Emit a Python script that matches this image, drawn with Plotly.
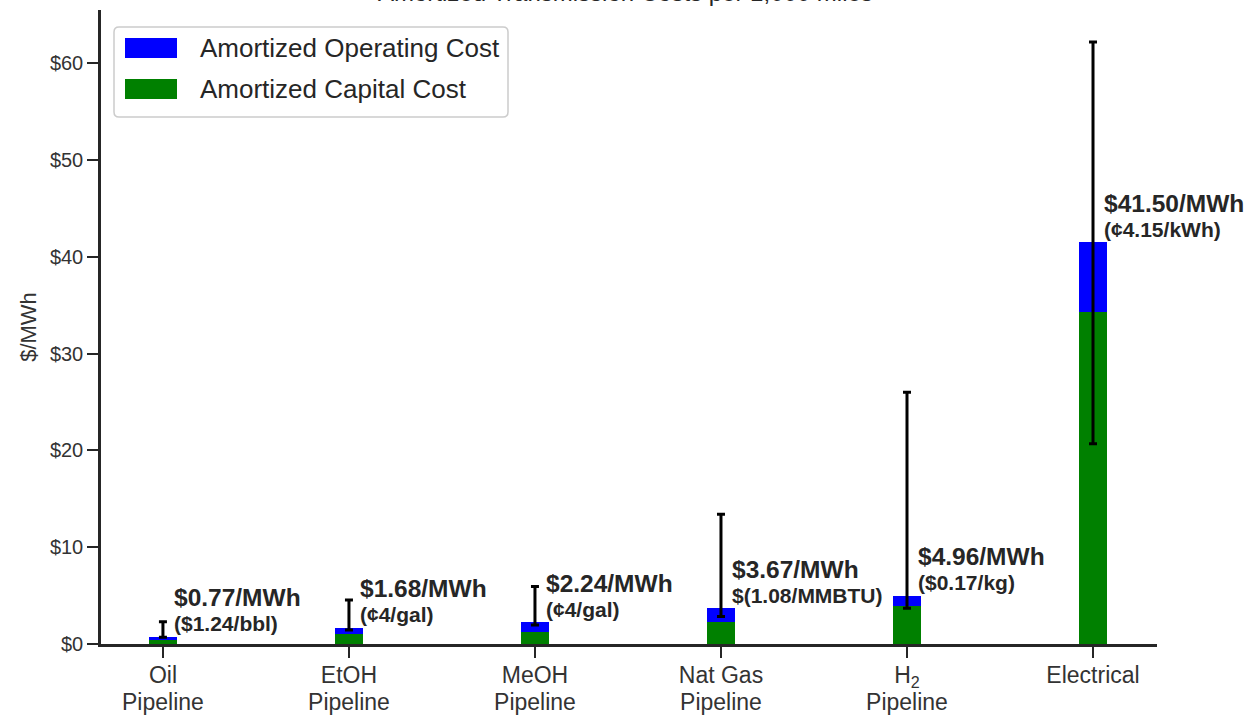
import plotly.graph_objects as go

categories = ["Oil<br>Pipeline", "EtOH<br>Pipeline", "MeOH<br>Pipeline",
              "Nat Gas<br>Pipeline", "H<sub>2</sub><br>Pipeline", "Electrical"]
capital_cost = [0.45, 1.00, 1.20, 2.30, 3.88, 34.25]
total_cost = [0.77, 1.68, 2.24, 3.67, 4.96, 41.50]
operating_cost = [round(t - c, 2) for t, c in zip(total_cost, capital_cost)]
err_low = [0.69, 1.45, 1.96, 2.85, 3.70, 20.70]
err_high = [2.30, 4.55, 5.95, 13.40, 26.00, 62.20]
label_main = ["$0.77/MWh", "$1.68/MWh", "$2.24/MWh", "$3.67/MWh", "$4.96/MWh", "$41.50/MWh"]
label_sub = ["($1.24/bbl)", "(¢4/gal)", "(¢4/gal)", "$(1.08/MMBTU)", "($0.17/kg)", "(¢4.15/kWh)"]
yticks = [0, 10, 20, 30, 40, 50, 60]
title_text = "Amortized Transmission Costs per 1,000 miles"
legend_names = ["Amortized Operating Cost", "Amortized Capital Cost"]

W, H = 1248, 725
L, R, T, B = 101, 1157, 10, 644
FONT = "Liberation Sans, Arial, sans-serif"
TXT = "#262626"
xs = list(range(len(categories)))

fig = go.Figure()
fig.add_trace(go.Bar(x=xs, y=capital_cost, name=legend_names[1], marker_color="#008000",
                     marker_line_width=0, width=0.15, showlegend=False))
fig.add_trace(go.Bar(x=xs, y=operating_cost, name=legend_names[0], marker_color="#0000ff",
                     marker_line_width=0, width=0.15, showlegend=False))
fig.add_trace(go.Scatter(
    x=xs, y=total_cost, mode="markers", marker=dict(size=1, opacity=0), showlegend=False,
    hoverinfo="skip",
    error_y=dict(type="data", symmetric=False,
                 array=[h - t for h, t in zip(err_high, total_cost)],
                 arrayminus=[t - l for t, l in zip(total_cost, err_low)],
                 color="black", thickness=3, width=4)))

ann = []
for i in xs:
    ann.append(dict(x=i + 0.052, y=total_cost[i], xref="x", yref="y", xanchor="left",
                    yanchor="middle", yshift=39, showarrow=False, borderpad=0,
                    text="<b>" + label_main[i] + "</b>",
                    font=dict(family=FONT, size=24.5, color=TXT)))
    ann.append(dict(x=i + 0.052, y=total_cost[i], xref="x", yref="y", xanchor="left",
                    yanchor="middle", yshift=13, showarrow=False, borderpad=0,
                    text="<b>" + label_sub[i] + "</b>",
                    font=dict(family=FONT, size=21, color=TXT)))


def px(x):
    return (x - L) / (R - L)


def py(y):
    return (B - y) / (B - T)


# title (partially above the page edge, as in reference)
ann.append(dict(x=px(625), y=py(-7), xref="paper", yref="paper", xanchor="center", yanchor="middle",
                showarrow=False, text=title_text, font=dict(family=FONT, size=24, color=TXT)))

# manual legend
shapes = []
x0, x1, y0, y1 = 114, 508, 27, 117
r = 5
rx, ry = r / (R - L), r / (B - T)
path = (f"M {px(x0)+rx},{py(y0)} L {px(x1)-rx},{py(y0)} Q {px(x1)},{py(y0)} {px(x1)},{py(y0)-ry} "
        f"L {px(x1)},{py(y1)+ry} Q {px(x1)},{py(y1)} {px(x1)-rx},{py(y1)} "
        f"L {px(x0)+rx},{py(y1)} Q {px(x0)},{py(y1)} {px(x0)},{py(y1)+ry} "
        f"L {px(x0)},{py(y0)-ry} Q {px(x0)},{py(y0)} {px(x0)+rx},{py(y0)} Z")
shapes.append(dict(type="path", xref="paper", yref="paper", path=path,
                   fillcolor="rgba(255,255,255,0.8)", line=dict(color="#cccccc", width=1.5)))
legend_colors = ["#0000ff", "#008000"]
legend_rows = [(38, 58), (79, 99)]
for (ya, yb), col, name in zip(legend_rows, legend_colors, legend_names):
    shapes.append(dict(type="rect", xref="paper", yref="paper", x0=px(125), x1=px(177),
                       y0=py(yb), y1=py(ya), fillcolor=col, line=dict(width=0)))
    ann.append(dict(x=px(198), y=py((ya + yb) / 2), xref="paper", yref="paper",
                    xanchor="left", yanchor="middle", showarrow=False, text=name,
                    font=dict(family=FONT, size=26, color=TXT)))

fig.update_layout(
    width=W, height=H, barmode="stack",
    margin=dict(l=L, r=W - R, t=T, b=H - B, autoexpand=False),
    plot_bgcolor="white", paper_bgcolor="white",
    annotations=ann, shapes=shapes, showlegend=False,
    font=dict(family=FONT, color=TXT),
)
fig.update_xaxes(range=[-0.333, 5.344], tickmode="array", tickvals=xs,
                 ticktext=[f"<span style='font-size:23px'>{c}</span>".replace(
                     "<br>", "</span><br><span style='font-size:23px'>") for c in categories],
                 showline=True, linecolor="#262626", linewidth=2.5, ticks="outside",
                 ticklen=11, tickwidth=2.2, tickcolor="#262626", showgrid=False, zeroline=False,
                 automargin=False,
                 tickfont=dict(family=FONT, size=21, color="#333333"))
fig.update_yaxes(range=[0, 65.5], tickmode="array", tickvals=yticks,
                 ticktext=[f"${v}" for v in yticks], automargin=False,
                 showline=True, linecolor="#262626", linewidth=2.5, ticks="outside",
                 ticklen=11, tickwidth=2.2, tickcolor="#262626", showgrid=False, zeroline=False,
                 tickfont=dict(family=FONT, size=20, color="#333333"),
                 title=dict(text="$/MWh", font=dict(family=FONT, size=22, color="#333333"),
                            standoff=8))

fig.write_html("out.html", config={"displayModeBar": False},
               post_script="document.body.style.margin='0';document.body.style.overflow='hidden';")
